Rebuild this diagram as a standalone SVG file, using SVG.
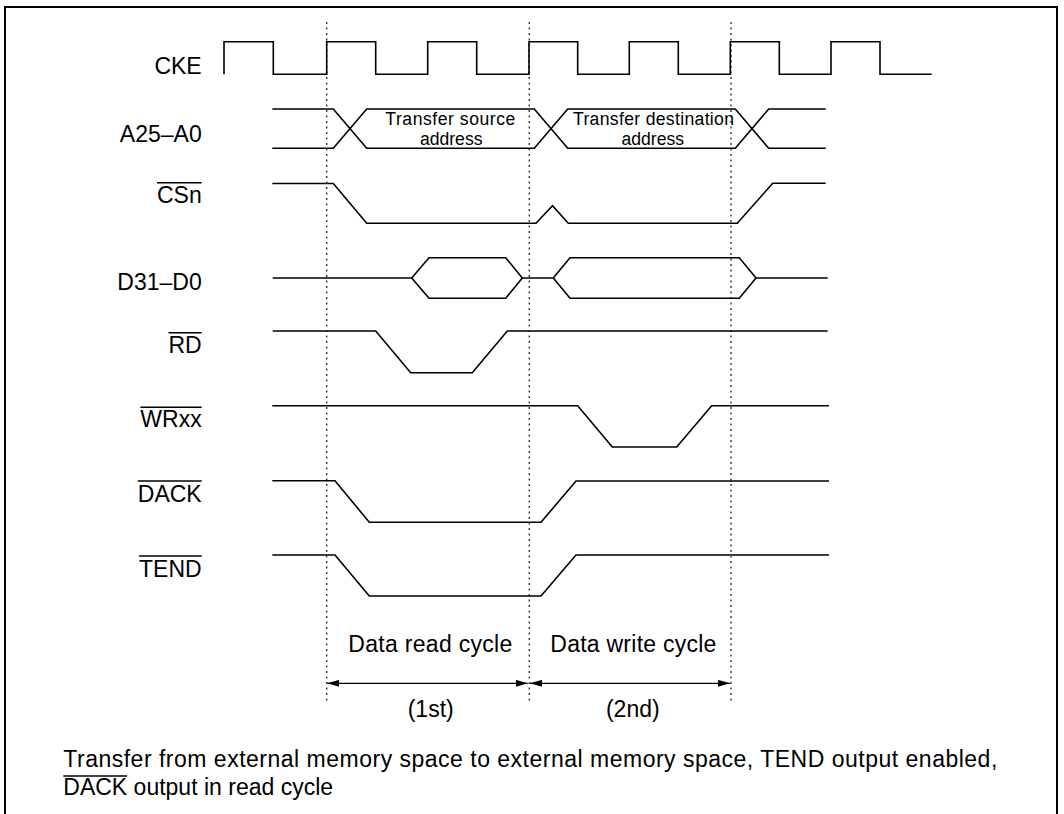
<svg xmlns="http://www.w3.org/2000/svg" width="1064" height="814" viewBox="0 0 1064 814">
<style>
.sig{fill:none;stroke:#000;stroke-width:1.6;stroke-linejoin:miter}
.lbl{font-family:"Liberation Sans",Arial,sans-serif;font-size:23px;fill:#000;text-anchor:end}
.txt{font-family:"Liberation Sans",Arial,sans-serif;font-size:23px;fill:#000}
.in{font-family:"Liberation Sans",Arial,sans-serif;font-size:17.6px;fill:#000;text-anchor:middle}
.mid{text-anchor:middle}
.ov{stroke:#000;stroke-width:1.5}
.dot{stroke:#444;stroke-width:1.5;stroke-dasharray:2 3.5}
.arr{stroke:#000;stroke-width:1.3;fill:none}
</style>
<defs>
<marker id="ah" viewBox="0 0 12 7" refX="12" refY="3.5" markerWidth="12" markerHeight="7" markerUnits="userSpaceOnUse" orient="auto-start-reverse">
<path d="M0,0 L12,3.5 L0,7 Z" fill="#000"/>
</marker>
</defs>
<rect x="0" y="0" width="1064" height="814" fill="#fff"/>
<rect x="5" y="7" width="1052" height="830" fill="none" stroke="#000" stroke-width="2"/>

<g id="guides">
<line class="dot" x1="326.7" y1="22" x2="326.7" y2="702"/>
<line class="dot" x1="529.3" y1="22" x2="529.3" y2="702"/>
<line class="dot" x1="731" y1="22" x2="731" y2="702"/>
</g>

<g id="CKE">
<text class="lbl" x="201.7" y="74.3">CKE</text>
<path class="sig" d="M224,74.3 V41.7 H273.3 V74.3 H326.7 V41.7 H375.7 V74.3 H427.7 V41.7 H476.7 V74.3 H529 V41.7 H577.7 V74.3 H629.3 V41.7 H678.3 V74.3 H730.3 V41.7 H779.3 V74.3 H831 V41.7 H880 V74.3 H931.7"/>
</g>

<g id="A25-A0">
<text class="lbl" x="201.7" y="141.7">A25–A0</text>
<path class="sig" d="M272.3,109 H333.3 L366.7,148.3 H534.3 L567.7,109 H735.3 L768.7,148.3 H825.7"/>
<path class="sig" d="M272.3,148.3 H333.3 L366.7,109 H534.3 L567.7,148.3 H735.3 L768.7,109 H825.7"/>
<text class="in" x="450.3" y="125" textLength="130" lengthAdjust="spacing">Transfer source</text>
<text class="in" x="451.2" y="144.8">address</text>
<text class="in" x="653.5" y="125" textLength="161" lengthAdjust="spacing">Transfer destination</text>
<text class="in" x="652.8" y="144.8">address</text>
</g>

<g id="CSn">
<text class="lbl" x="201.7" y="202.7">CSn</text>
<line class="ov" x1="157" y1="182.7" x2="201.7" y2="182.7"/>
<path class="sig" d="M272.3,183.5 H333.3 L366.7,223.3 H536 L552.5,205.8 L568.3,223.3 H737.3 L772.7,183.3 H825.7"/>
</g>

<g id="D31-D0">
<text class="lbl" x="201.7" y="290">D31–D0</text>
<path class="sig" d="M272.7,278 H411.7 L429,257.7 H505.7 L522.3,278 H553.3 L570,257.7 H739.3 L756,278 H827.7"/>
<path class="sig" d="M411.7,278 L429,298.3 H505.7 L522.3,278 M553.3,278 L570,298.3 H739.3 L756,278"/>
</g>

<g id="RD">
<text class="lbl" x="201.7" y="352.7">RD</text>
<line class="ov" x1="168.5" y1="332.7" x2="201.7" y2="332.7"/>
<path class="sig" d="M272.7,331 H375.7 L410.7,372.7 H472.3 L507.3,331 H827.7"/>
</g>

<g id="WRxx">
<text class="lbl" x="201.7" y="427.3">WRxx</text>
<line class="ov" x1="140.4" y1="407.3" x2="201.7" y2="407.3"/>
<path class="sig" d="M272.3,405.7 H577.7 L612.3,447 H676.7 L711.7,405.7 H829"/>
</g>

<g id="DACK">
<text class="lbl" x="201.7" y="501.7">DACK</text>
<line class="ov" x1="137.8" y1="481" x2="201.7" y2="481"/>
<path class="sig" d="M272.3,480.7 H335 L369.3,522.3 H541 L576,481 H829"/>
</g>

<g id="TEND">
<text class="lbl" x="201.7" y="576.7">TEND</text>
<line class="ov" x1="139.1" y1="556" x2="201.7" y2="556"/>
<path class="sig" d="M272.3,555 H335 L369.3,596 H541 L576,555 H829"/>
</g>

<g id="cycles">
<text class="txt mid" x="430.3" y="652.3" textLength="164" lengthAdjust="spacing">Data read cycle</text>
<text class="txt mid" x="633.3" y="652.3" textLength="166" lengthAdjust="spacing">Data write cycle</text>
<text class="txt mid" x="430.7" y="716.7">(1st)</text>
<text class="txt mid" x="632.8" y="716.7">(2nd)</text>
</g>

<g id="connectors">
<line class="arr" x1="327.3" y1="683.3" x2="527.7" y2="683.3" marker-start="url(#ah)" marker-end="url(#ah)"/>
<line class="arr" x1="530" y1="683.3" x2="730" y2="683.3" marker-start="url(#ah)" marker-end="url(#ah)"/>
</g>

<g id="caption">
<text class="txt" x="63.3" y="767.3" textLength="934" lengthAdjust="spacing">Transfer from external memory space to external memory space, TEND output enabled,</text>
<text class="txt" x="63.3" y="795">DACK output in read cycle</text>
<line class="ov" x1="63.3" y1="776" x2="127.2" y2="776"/>
</g>
</svg>
